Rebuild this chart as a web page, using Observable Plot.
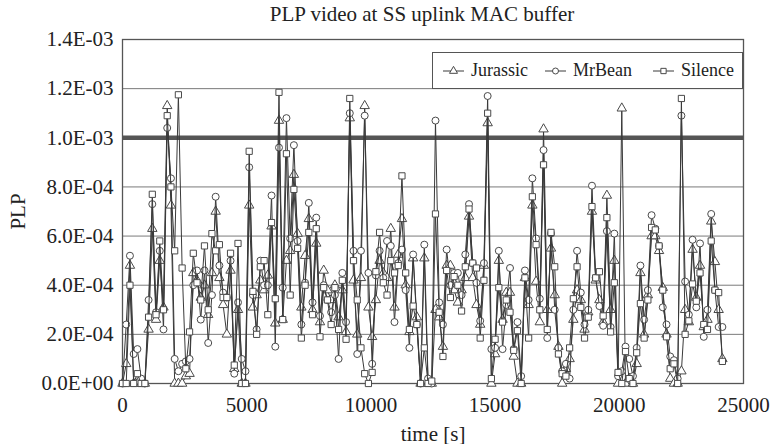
<!DOCTYPE html>
<html>
<head>
<meta charset="utf-8">
<script src="https://cdn.jsdelivr.net/npm/d3@7"></script>
<script src="https://cdn.jsdelivr.net/npm/@observablehq/plot@0.6"></script>
<style>
  body { margin: 0; background: #fff; }
  #wrap { position: relative; width: 774px; height: 444px; font-family: "Liberation Serif", "Times New Roman", serif; color: #222; }
  #title { height: 26px; line-height: 28px; width: 774px; text-align: center; font-size: 21px; padding-left: 70px; box-sizing: border-box; }
  #legend { position: absolute; left: 432px; top: 52px; width: 311px; height: 37px; box-sizing: border-box; border: 1.3px solid #555; background: #fff; font-size: 18px; font-family: "Liberation Serif", "Times New Roman", serif; }
  .item { position: absolute; top: 0; height: 35px; display: flex; align-items: center; }
  .item svg { margin-right: 7px; }
</style>
</head>
<body>
<div id="wrap">
  <div id="title">PLP video at SS uplink MAC buffer</div>
  <div id="chart"></div>
  <div id="legend"></div>
</div>
<script>
// sampling interval of the time axis (s)
const STEP = 150;

const seriesNames = ["Jurassic", "MrBean", "Silence"];
const seriesSymbols = ["triangle", "circle", "square"];

const jurassic = [0,0.8e-4,4.8e-4,0,0,0,0,2.2e-4,6.3e-4,2.6e-4,5.0e-4,3.1e-4,11.3e-4,7.25e-4,0,0,0,0.3e-4,0.4e-4,4.5e-4,4.2e-4,3.5e-4,4.0e-4,2.8e-4,4.5e-4,7.0e-4,4.3e-4,3.2e-4,2.0e-4,4.6e-4,0.6e-4,3.0e-4,0,0,7.25e-4,3.1e-4,3.6e-4,4.2e-4,3.8e-4,4.4e-4,6.4e-4,2.45e-4,10.7e-4,2.6e-4,5.0e-4,5.4e-4,8.5e-4,6.1e-4,3.1e-4,5.2e-4,6.7e-4,3.0e-4,5.7e-4,2.5e-4,4.6e-4,3.8e-4,3.4e-4,4.0e-4,2.7e-4,3.8e-4,2.1e-4,10.8e-4,4.2e-4,2.0e-4,4.3e-4,11.3e-4,3.1e-4,1.9e-4,3.4e-4,5.0e-4,4.5e-4,4.3e-4,6.3e-4,3.1e-4,5.25e-4,6.7e-4,4.0e-4,2.1e-4,5.1e-4,2.7e-4,0,5.1e-4,0,0,3.0e-4,2.7e-4,1.5e-4,4.8e-4,4.8e-4,3.8e-4,3.3e-4,3.8e-4,4.3e-4,6.8e-4,4.3e-4,3.2e-4,2.4e-4,4.8e-4,10.6e-4,0,1.2e-4,5.0e-4,2.6e-4,3.7e-4,3.7e-4,1.1e-4,0,0,4.3e-4,3.2e-4,7.25e-4,4.15e-4,2.5e-4,10.35e-4,3.0e-4,5.5e-4,3.6e-4,1.5e-4,0,0.6e-4,1.0e-4,2.6e-4,3.8e-4,3.4e-4,2.2e-4,2.9e-4,7.0e-4,4.2e-4,3.4e-4,2.5e-4,7.65e-4,3.0e-4,5.0e-4,0,11.2e-4,0,0.2e-4,0,0.8e-4,4.5e-4,2.0e-4,3.6e-4,6.0e-4,6.0e-4,5.4e-4,3.9e-4,2.0e-4,0.2e-4,0,0,0.5e-4,3.0e-4,2.5e-4,5.45e-4,3.5e-4,4.8e-4,2.3e-4,2.6e-4,6.6e-4,4.95e-4,3.0e-4,1.0e-4];

const mrBean = [0,2.4e-4,5.2e-4,1.2e-4,1.4e-4,0.2e-4,0,3.4e-4,7.3e-4,2.9e-4,5.4e-4,2.2e-4,10.4e-4,8.35e-4,1.0e-4,0.5e-4,0.8e-4,0.9e-4,1.0e-4,4.0e-4,4.6e-4,2.6e-4,4.6e-4,1.65e-4,3.6e-4,7.6e-4,4.8e-4,3.7e-4,3.5e-4,5.0e-4,0.4e-4,3.3e-4,1.0e-4,0.5e-4,8.8e-4,3.6e-4,2.2e-4,5.0e-4,4.0e-4,4.0e-4,7.65e-4,1.5e-4,9.6e-4,3.9e-4,10.8e-4,5.9e-4,9.7e-4,5.8e-4,2.4e-4,4.1e-4,7.35e-4,3.3e-4,6.75e-4,2.75e-4,4.0e-4,3.4e-4,2.9e-4,3.6e-4,1.0e-4,4.5e-4,2.5e-4,11.0e-4,5.4e-4,1.2e-4,5.4e-4,10.9e-4,4.5e-4,0.8e-4,4.4e-4,5.4e-4,4.3e-4,5.8e-4,5.6e-4,2.5e-4,4.9e-4,5.45e-4,3.8e-4,1.45e-4,5.25e-4,2.4e-4,0,5.65e-4,0.2e-4,0,10.7e-4,3.3e-4,2.4e-4,5.45e-4,4.0e-4,4.5e-4,4.5e-4,3.6e-4,5.25e-4,7.3e-4,4.9e-4,4.1e-4,2.55e-4,4.9e-4,11.7e-4,1.4e-4,1.45e-4,5.4e-4,1.4e-4,3.2e-4,4.7e-4,1.4e-4,2.5e-4,0.3e-4,4.6e-4,3.4e-4,8.35e-4,5.9e-4,3.45e-4,9.5e-4,1.85e-4,6.1e-4,3.0e-4,1.45e-4,0.5e-4,0.8e-4,0.2e-4,3.0e-4,5.4e-4,3.7e-4,2.4e-4,3.0e-4,8.05e-4,4.3e-4,3.15e-4,2.35e-4,6.2e-4,2.3e-4,6.1e-4,0.3e-4,0.5e-4,1.5e-4,1.0e-4,0.3e-4,1.45e-4,4.8e-4,2.6e-4,3.8e-4,6.85e-4,6.3e-4,5.6e-4,3.1e-4,2.4e-4,1.1e-4,0.95e-4,0.2e-4,10.9e-4,4.15e-4,2.8e-4,5.85e-4,3.1e-4,5.7e-4,1.9e-4,3.0e-4,6.9e-4,3.8e-4,2.3e-4,2.3e-4];

const silence = [0,0,4.0e-4,0,0.4e-4,0,0,2.7e-4,7.7e-4,2.8e-4,5.8e-4,3.0e-4,10.9e-4,8.0e-4,5.4e-4,11.75e-4,4.7e-4,0.6e-4,2.1e-4,5.3e-4,4.1e-4,3.4e-4,5.6e-4,3.0e-4,6.1e-4,5.4e-4,5.65e-4,3.5e-4,3.5e-4,5.3e-4,0.75e-4,5.7e-4,0,0,9.45e-4,3.75e-4,2.0e-4,4.75e-4,5.0e-4,2.8e-4,6.55e-4,3.45e-4,11.85e-4,2.6e-4,9.35e-4,3.6e-4,7.9e-4,5.5e-4,1.85e-4,4.0e-4,6.15e-4,2.8e-4,6.3e-4,1.9e-4,3.9e-4,3.4e-4,2.4e-4,3.9e-4,2.2e-4,4.2e-4,1.8e-4,11.6e-4,5.0e-4,3.4e-4,1.45e-4,0.4e-4,0,0.45e-4,4.55e-4,6.15e-4,4.1e-4,3.6e-4,5.0e-4,4.5e-4,4.8e-4,8.45e-4,4.5e-4,2.2e-4,3.15e-4,2.4e-4,0,1.45e-4,0,0.1e-4,6.9e-4,2.9e-4,1.1e-4,4.6e-4,3.5e-4,4.35e-4,4.0e-4,2.95e-4,4.75e-4,7.1e-4,4.9e-4,4.7e-4,1.85e-4,4.2e-4,11.0e-4,0.2e-4,1.8e-4,3.9e-4,2.5e-4,3.4e-4,2.9e-4,1.35e-4,2.15e-4,0,4.3e-4,1.85e-4,7.6e-4,5.65e-4,3.0e-4,8.9e-4,2.2e-4,6.15e-4,4.75e-4,1.2e-4,0.4e-4,0.3e-4,1.45e-4,3.45e-4,4.75e-4,3.1e-4,1.85e-4,2.7e-4,7.2e-4,4.3e-4,4.55e-4,2.75e-4,6.75e-4,2.1e-4,4.1e-4,0.45e-4,0,1.3e-4,0.2e-4,0,1.25e-4,3.25e-4,1.85e-4,3.4e-4,6.35e-4,6.25e-4,5.6e-4,3.8e-4,1.9e-4,0.6e-4,0.8e-4,0,11.6e-4,2.0e-4,2.55e-4,4.05e-4,3.35e-4,4.5e-4,2.4e-4,2.2e-4,5.8e-4,3.8e-4,3.7e-4,0.9e-4];

const xTicks = [0, 5000, 10000, 15000, 20000, 25000];
const yTicks = [0, 2e-4, 4e-4, 6e-4, 8e-4, 1.0e-3, 1.2e-3, 1.4e-3];
const threshold = [1.0e-3];

const seriesValues = [jurassic, mrBean, silence];
const tables = seriesValues.map((vals, k) =>
  vals.map((v, i) => ({series: seriesNames[k], t: i * STEP, plp: v}))
);

const fmtE = d => {
  const [m, e] = d.toExponential(1).split("e");
  const n = +e;
  return m + "E" + (n < 0 ? "-" : "+") + String(Math.abs(n)).padStart(2, "0");
};

const lineColor = "#3a3a3a";
const markColor = "#4a4a4a";

const seriesMarks = tables.flatMap((tab, k) => [
  Plot.line(tab, {x: "t", y: "plp", stroke: lineColor, strokeWidth: 1}),
  Plot.dot(tab, {x: "t", y: "plp", symbol: seriesSymbols[k], r: 3.5, fill: "white", stroke: markColor, strokeWidth: 1})
]);

const chart = Plot.plot({
  width: 774,
  height: 418,
  marginTop: 13,
  marginBottom: 61,
  marginLeft: 122,
  marginRight: 31,
  style: {fontFamily: "'Liberation Serif', 'Times New Roman', serif", fontSize: "21px", color: "#222", background: "transparent", overflow: "visible"},
  x: {domain: [0, 25000], label: null},
  y: {domain: [0, 1.4e-3], label: null},
  marks: [
    Plot.gridY(yTicks, {stroke: "#7a7a7a", strokeOpacity: 1, strokeWidth: 1}),
    Plot.ruleY(threshold, {stroke: "#555", strokeWidth: 4.5}),
    Plot.frame({stroke: "#555", strokeWidth: 1.3}),
    Plot.axisX(xTicks, {tickSize: 0, tickPadding: 14, tickFormat: d => String(d), label: "time [s]", labelAnchor: "center", labelOffset: 57, labelArrow: "none", fontSize: 21}),
    Plot.axisY(yTicks, {tickSize: 0, tickPadding: 9, tickFormat: fmtE, label: "PLP", labelAnchor: "center", labelOffset: 112, labelArrow: "none", fontSize: 21}),
    ...seriesMarks
  ]
});
document.getElementById("chart").appendChild(chart);

// legend
const legend = document.getElementById("legend");
const legendLeft = [10, 112, 220];
seriesNames.forEach((name, k) => {
  const item = document.createElement("div");
  item.className = "item";
  item.style.left = legendLeft[k] + "px";
  const s = d3.create("svg").attr("width", 21).attr("height", 12);
  s.append("line").attr("x1", 0).attr("x2", 21).attr("y1", 6).attr("y2", 6).attr("stroke", lineColor).attr("stroke-width", 1);
  s.append("path").attr("transform", "translate(10.5,6)")
    .attr("d", d3.symbol(k === 0 ? d3.symbolTriangle : k === 1 ? d3.symbolCircle : d3.symbolSquare, 28)())
    .attr("fill", "white").attr("stroke", markColor).attr("stroke-width", 1);
  item.appendChild(s.node());
  const span = document.createElement("span");
  span.textContent = name;
  item.appendChild(span);
  legend.appendChild(item);
});
</script>
</body>
</html>
